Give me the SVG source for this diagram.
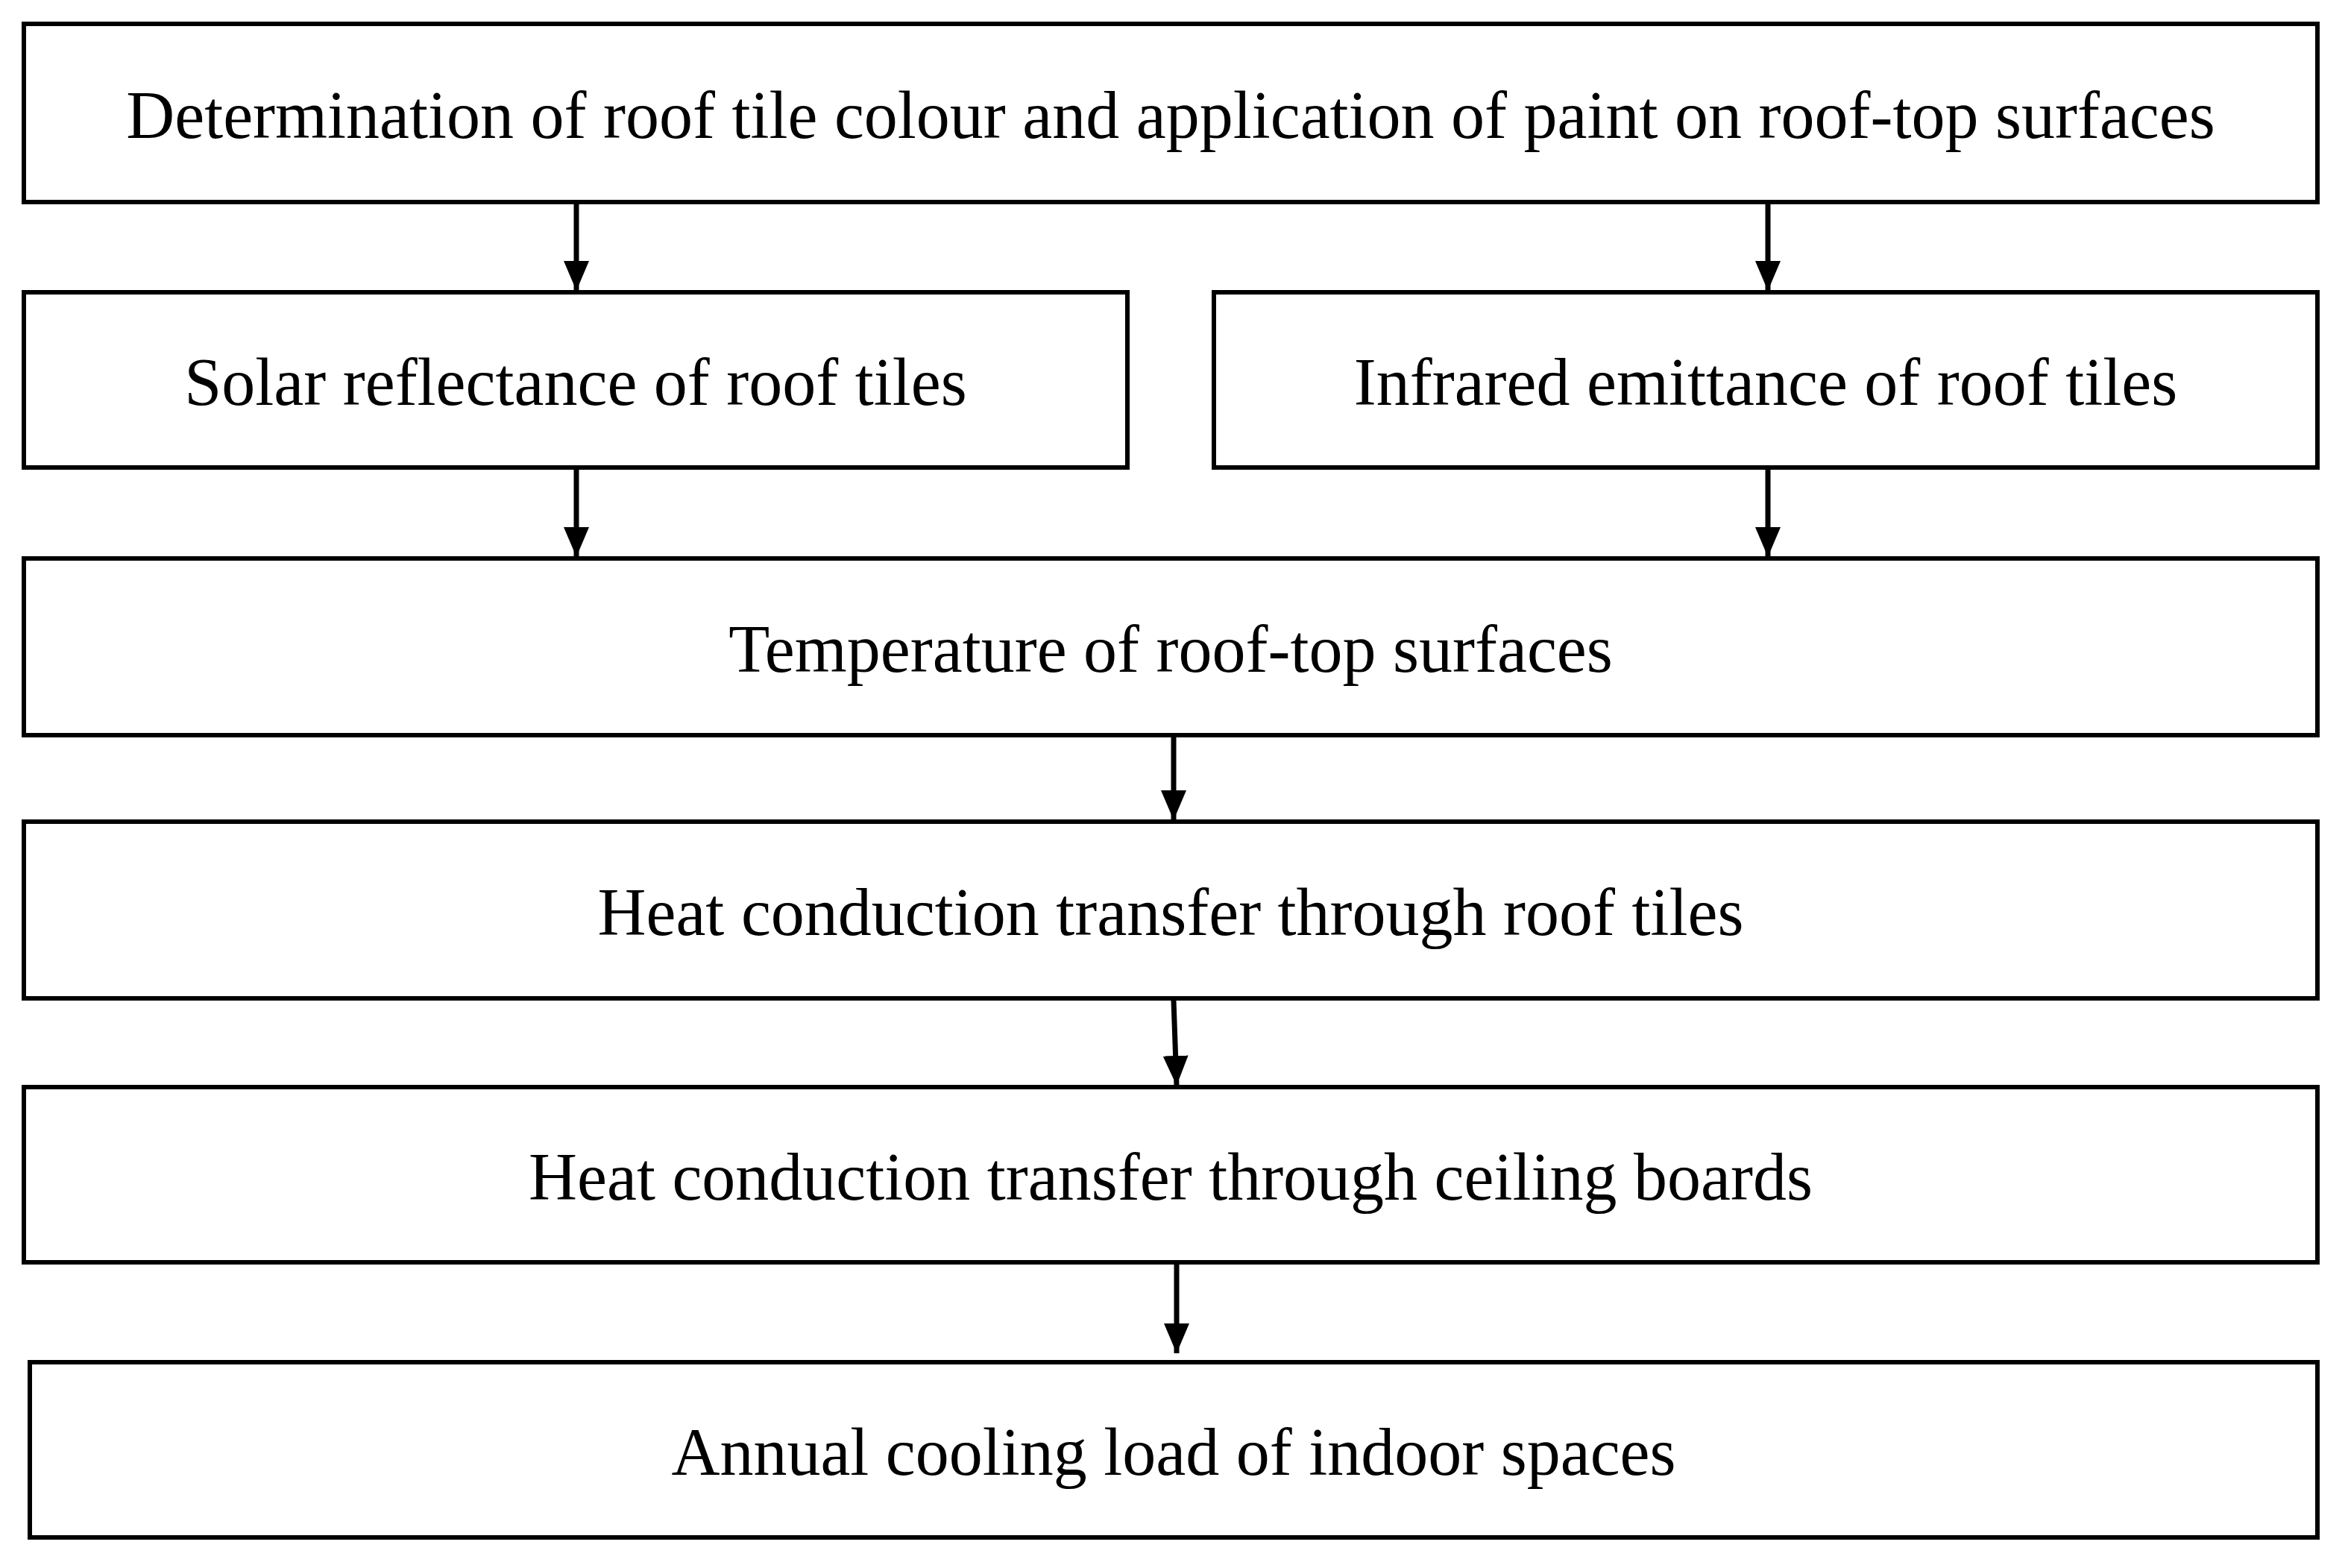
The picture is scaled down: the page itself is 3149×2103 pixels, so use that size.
<svg xmlns="http://www.w3.org/2000/svg" width="3149" height="2103" viewBox="0 0 3149 2103">
<defs>
<style>
.b{fill:#fff;stroke:#000;stroke-width:6}
.t{font-family:"Liberation Serif",serif;font-size:90px;text-anchor:middle;dominant-baseline:central;fill:#000}
</style>
<marker id="h" viewBox="0 0 40 40" refX="40" refY="20" markerWidth="40" markerHeight="40" markerUnits="userSpaceOnUse" orient="auto">
<path d="M0,3 L40,20 L0,37 z" fill="#000"/>
</marker>
</defs>
<rect width="3149" height="2103" fill="#fff"/>
<g id="connectors" style="stroke:#000;stroke-width:7;fill:none">
<line x1="773" y1="274" x2="773" y2="390" marker-end="url(#h)"/>
<line x1="2371" y1="274" x2="2371" y2="390" marker-end="url(#h)"/>
<line x1="773" y1="630" x2="773" y2="747" marker-end="url(#h)"/>
<line x1="2371" y1="630" x2="2371" y2="747" marker-end="url(#h)"/>
<line x1="1574" y1="989" x2="1574" y2="1100" marker-end="url(#h)"/>
<line x1="1574" y1="1342" x2="1578" y2="1456" marker-end="url(#h)"/>
<line x1="1578" y1="1696" x2="1578" y2="1815" marker-end="url(#h)"/>
</g>
<g id="n1"><rect class="b" x="32" y="32" width="3076" height="239"/><text class="t" x="1570" y="154">Determination of roof tile colour and application of paint on roof-top surfaces</text></g>
<g id="n2"><rect class="b" x="32" y="392" width="1480" height="235"/><text class="t" x="772" y="512">Solar reflectance of roof tiles</text></g>
<g id="n3"><rect class="b" x="1628" y="392" width="1480" height="235"/><text class="t" x="2368" y="512">Infrared emittance of roof tiles</text></g>
<g id="n4"><rect class="b" x="32" y="749" width="3076" height="237"/><text class="t" x="1570" y="870">Temperature of roof-top surfaces</text></g>
<g id="n5"><rect class="b" x="32" y="1102" width="3076" height="237"/><text class="t" x="1570" y="1223">Heat conduction transfer through roof tiles</text></g>
<g id="n6"><rect class="b" x="32" y="1458" width="3076" height="235"/><text class="t" x="1570" y="1578">Heat conduction transfer through ceiling boards</text></g>
<g id="n7"><rect class="b" x="40" y="1827" width="3068" height="235"/><text class="t" x="1574" y="1947">Annual cooling load of indoor spaces</text></g>
</svg>
